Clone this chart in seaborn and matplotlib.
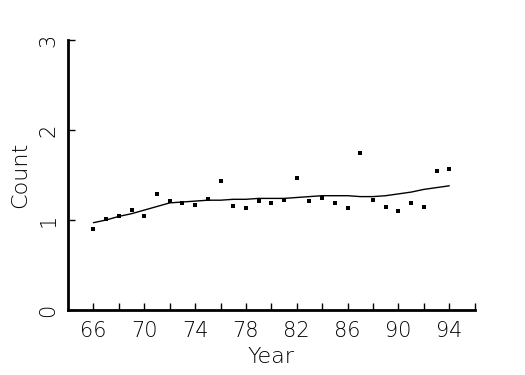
import matplotlib
matplotlib.use("Agg")
import matplotlib.pyplot as plt
import seaborn as sns
import pandas as pd
from matplotlib.ticker import FixedLocator

years = list(range(66, 95))
counts = [0.90, 1.01, 1.04, 1.11, 1.05, 1.29, 1.21, 1.19, 1.17, 1.23,
          1.43, 1.16, 1.13, 1.21, 1.19, 1.22, 1.47, 1.21, 1.24, 1.19,
          1.13, 1.75, 1.22, 1.15, 1.10, 1.19, 1.14, 1.54, 1.57]
smooth = [0.97, 1.00, 1.04, 1.07, 1.11, 1.15, 1.19, 1.20, 1.21, 1.22,
          1.22, 1.23, 1.23, 1.24, 1.24, 1.24, 1.25, 1.26, 1.27, 1.27,
          1.27, 1.26, 1.26, 1.27, 1.29, 1.31, 1.34, 1.36, 1.38]
x_labels = ["66", "70", "74", "78", "82", "86", "90", "94"]
y_labels = ["0", "1", "2", "3"]

df = pd.DataFrame({"Year": years, "Count": counts, "Smooth": smooth})

sns.set_style("white")
plt.rcParams["font.family"] = ["DejaVu Sans"]
plt.rcParams["xtick.direction"] = "in"
plt.rcParams["ytick.direction"] = "in"
plt.rcParams["xtick.bottom"] = True
plt.rcParams["ytick.left"] = True

fig = plt.figure(figsize=(5.25, 3.75), dpi=100)
ax = fig.add_axes([68/525, 1-310/375, (474.7-68)/525, (310-40)/375])

sns.lineplot(data=df, x="Year", y="Smooth", ax=ax, color="black", lw=1.0)
sns.scatterplot(data=df, x="Year", y="Count", ax=ax, color="black", marker="s",
                s=5, linewidth=0)

ax.set_xlim(64, 96)
ax.set_ylim(0, 3)
ax.xaxis.set_major_locator(FixedLocator([int(v) for v in x_labels]))
ax.xaxis.set_minor_locator(FixedLocator([68, 72, 76, 80, 84, 88, 92, 96]))
ax.set_xticklabels(x_labels)
ax.yaxis.set_major_locator(FixedLocator([int(v) for v in y_labels]))
ax.set_yticklabels(y_labels, rotation=90, va="center")

for s in ["top", "right"]:
    ax.spines[s].set_visible(False)
for s in ["left", "bottom"]:
    ax.spines[s].set_linewidth(2)
    ax.spines[s].set_color("black")

ax.tick_params(axis="both", which="both", direction="in", length=5, width=1,
               colors="black", labelcolor="black", labelsize=15)
ax.tick_params(axis="x", which="both", pad=8)
ax.tick_params(axis="y", which="both", pad=7)
for t in ax.get_xticklabels() + ax.get_yticklabels():
    t.set_fontweight("light")

ax.set_xlabel("Year", fontsize=16, fontweight="light", color="black", labelpad=4)
ax.set_ylabel("Count", fontsize=16, fontweight="light", color="black", labelpad=6)

fig.savefig("out.png", dpi=100)
